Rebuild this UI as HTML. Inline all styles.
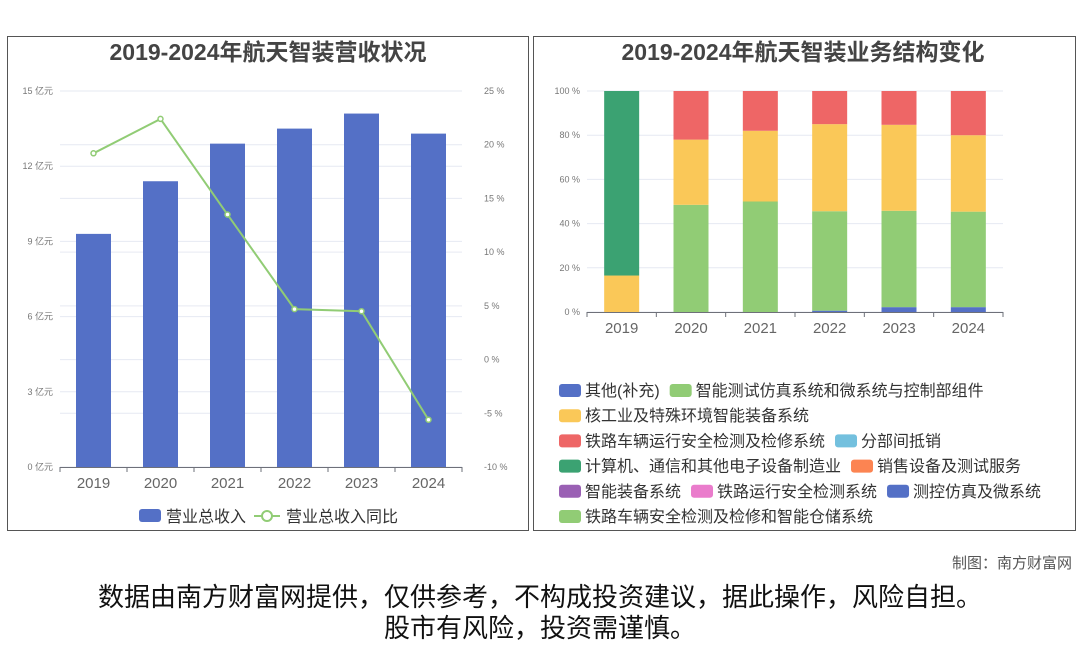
<!DOCTYPE html>
<html><head><meta charset="utf-8">
<style>
body{margin:0;width:1080px;height:646px;background:#fff;overflow:hidden;font-family:"Liberation Sans","Noto Sans CJK SC",sans-serif;}
svg{position:absolute;left:0;top:0}
.foot{position:absolute;left:0;width:1080px;text-align:center;font-size:26px;color:#111;line-height:31px}
</style></head>
<body>
<svg id="s" width="1080" height="646" xmlns="http://www.w3.org/2000/svg" font-family="Liberation Sans, Noto Sans CJK SC, sans-serif">
<rect x="7.5" y="36.5" width="521" height="494" fill="none" stroke="#555"/>
<rect x="533.5" y="36.5" width="542" height="494" fill="none" stroke="#555"/>
<text x="268" y="60" text-anchor="middle" font-size="23" font-weight="bold" fill="#444">2019-2024年航天智装营收状况</text>
<text x="803" y="60" text-anchor="middle" font-size="23" font-weight="bold" fill="#444">2019-2024年航天智装业务结构变化</text>
<g id="L"></g><g id="R"></g>
<text x="1072" y="568" text-anchor="end" font-size="15" fill="#555">制图：南方财富网</text>
</svg>
<div class="foot" style="top:582px">数据由南方财富网提供，仅供参考，不构成投资建议，据此操作，风险自担。<br>股市有风险，投资需谨慎。</div>
<script>
const years=['2019','2020','2021','2022','2023','2024'];
const revenue=[9.3,11.4,12.9,13.5,14.1,13.3];
const growth=[19.2,22.4,13.5,4.7,4.5,-5.6];
const leftTicks=[0,3,6,9,12,15];
const rightTicks=[-10,-5,0,5,10,15,20,25];
const segOther=[0,0,0,0.6,2.2,2.2];
const segTest=[0,48.5,50,45,43.6,43.2];
const segNuclear=[16.5,29.5,32,39.4,38.9,34.6];
const segRail=[0,22,18,15,15.3,20];
const segComputer=[83.5,0,0,0,0,0];
const pctTicks=[0,20,40,60,80,100];
const NS='http://www.w3.org/2000/svg';
function mk(p,t,a,txt){const e=document.createElementNS(NS,t);for(const k in a)e.setAttribute(k,a[k]);if(txt!=null)e.textContent=txt;p.appendChild(e);return e;}
const L=document.getElementById('L');
const lx0=60,lx1=462,ly0=467,ly1=91;
const yL=v=>ly0-(v/15)*(ly0-ly1);
const yR=v=>ly0-((v+10)/35)*(ly0-ly1);
const bw=(lx1-lx0)/years.length;
const xc=i=>lx0+bw*(i+0.5);
rightTicks.forEach(t=>{const g=mk(L,'line',{x1:lx0,x2:lx1,y1:yR(t),y2:yR(t),stroke:'#e6e9f2'});
const tx=mk(L,'text',{x:484,y:yR(t)+3,'font-size':9,fill:'#777'},t+' %');});
leftTicks.forEach(t=>{const g=mk(L,'line',{x1:lx0,x2:lx1,y1:yL(t),y2:yL(t),stroke:'#e6e9f2'});
const tx=mk(L,'text',{x:53,y:yL(t)+3,'font-size':9,fill:'#777','text-anchor':'end'},t+' 亿元');});
revenue.forEach((v,i)=>{const r=mk(L,'rect',{x:xc(i)-17.5,y:yL(v),width:35,height:ly0-yL(v),fill:'#5470c6'});});
const ax=mk(L,'line',{x1:lx0,x2:lx1,y1:ly0+.5,y2:ly0+.5,stroke:'#6e7079'});
years.forEach((y,i)=>{mk(L,'line',{x1:lx0+bw*i,x2:lx0+bw*i,y1:ly0,y2:ly0+5,stroke:'#6e7079'});
const tx=mk(L,'text',{x:xc(i),y:488,'font-size':15,fill:'#666','text-anchor':'middle'},y);});
mk(L,'line',{x1:lx1,x2:lx1,y1:ly0,y2:ly0+5,stroke:'#6e7079'});
const pl=mk(L,'polyline',{points:growth.map((v,i)=>xc(i)+','+yR(v)).join(' '),fill:'none',stroke:'#91cc75','stroke-width':2});

growth.forEach((v,i)=>{const c=mk(L,'circle',{cx:xc(i),cy:yR(v),r:2.5,fill:'#fff',stroke:'#91cc75','stroke-width':1.5});});
let lg=mk(L,'rect',{x:139,y:509,width:22,height:13,rx:3,fill:'#5470c6'});
mk(L,'text',{x:166,y:522,'font-size':16,fill:'#333'},'营业总收入');
mk(L,'line',{x1:254,x2:280,y1:516,y2:516,stroke:'#91cc75','stroke-width':2});
lg=mk(L,'circle',{cx:267,cy:516,r:5,fill:'#fff',stroke:'#91cc75','stroke-width':2});
mk(L,'text',{x:286,y:522,'font-size':16,fill:'#333'},'营业总收入同比');
const R=document.getElementById('R');
const rx0=587,rx1=1003,ry0=312,ry1=91;
const yP=v=>ry0-(v/100)*(ry0-ry1);
const rbw=(rx1-rx0)/years.length;
const rxc=i=>rx0+rbw*(i+0.5);
pctTicks.forEach(t=>{const g=mk(R,'line',{x1:rx0,x2:rx1,y1:yP(t),y2:yP(t),stroke:'#e6e9f2'});
const tx=mk(R,'text',{x:580,y:yP(t)+3,'font-size':9,fill:'#777','text-anchor':'end'},t+' %');});
const series=[[segOther,'#5470c6','other'],[segTest,'#91cc75','test-sim'],[segNuclear,'#fac858','nuclear'],[segRail,'#ee6666','rail'],[segComputer,'#3ba272','computer']];
years.forEach((y,i)=>{let acc=0;series.forEach(([arr,col,nm])=>{const v=arr[i];if(v>0){const r=mk(R,'rect',{x:rxc(i)-17.5,y:yP(acc+v),width:35,height:yP(acc)-yP(acc+v),fill:col});
}acc+=v;});});
mk(R,'line',{x1:rx0,x2:rx1,y1:ry0+.5,y2:ry0+.5,stroke:'#6e7079'});
years.forEach((y,i)=>{mk(R,'line',{x1:rx0+rbw*i,x2:rx0+rbw*i,y1:ry0,y2:ry0+5,stroke:'#6e7079'});
const tx=mk(R,'text',{x:rxc(i),y:333,'font-size':15,fill:'#666','text-anchor':'middle'},y);});
mk(R,'line',{x1:rx1,x2:rx1,y1:ry0,y2:ry0+5,stroke:'#6e7079'});
const legendRows=[[['其他(补充)','#5470c6'],['智能测试仿真系统和微系统与控制部组件','#91cc75']],[['核工业及特殊环境智能装备系统','#fac858']],[['铁路车辆运行安全检测及检修系统','#ee6666'],['分部间抵销','#73c0de']],[['计算机、通信和其他电子设备制造业','#3ba272'],['销售设备及测试服务','#fc8452']],[['智能装备系统','#9a60b4'],['铁路运行安全检测系统','#ea7ccc'],['测控仿真及微系统','#5470c6']],[['铁路车辆安全检测及检修和智能仓储系统','#91cc75']]];
legendRows.forEach((row,ri)=>{let x=559;const cy=390+ri*25.2;row.forEach(([t,c])=>{const r=mk(R,'rect',{x:x,y:cy-6,width:22,height:13,rx:3,fill:c});
const tx=mk(R,'text',{x:x+26,y:cy+6,'font-size':16,fill:'#333'},t);
x+=26+tx.getComputedTextLength()+10;});});
</script>
</body></html>
